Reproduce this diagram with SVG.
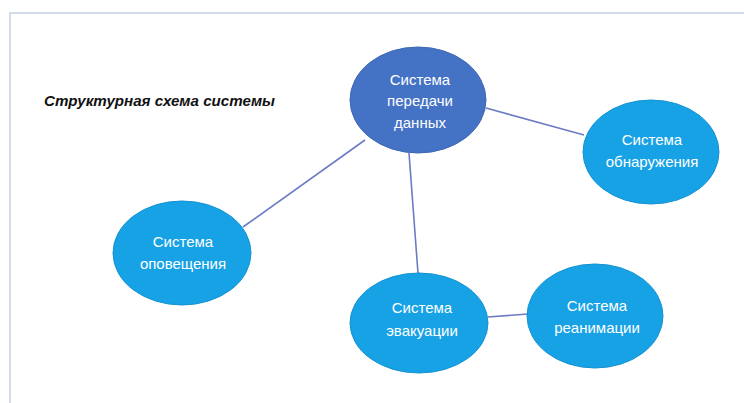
<svg xmlns="http://www.w3.org/2000/svg" width="744" height="403" viewBox="0 0 744 403">
<style>
.frame{fill:none;stroke:#d3dbe9;stroke-width:2}
.conn{stroke:#6b7cc4;stroke-width:1.6;fill:none}
.main{fill:#4472c4;stroke:#3d67b3;stroke-width:1}
.node{fill:#17a2e6;stroke:#1592d2;stroke-width:1}
.lbl{font-family:"Liberation Sans",Arial,sans-serif;font-size:15px;fill:#ffffff;text-anchor:middle;dominant-baseline:central}
.title{font-family:"Liberation Sans",Arial,sans-serif;font-size:15px;font-weight:bold;font-style:italic;fill:#111111;dominant-baseline:central}
</style>
<rect x="0" y="0" width="744" height="403" fill="#ffffff"/>
<path class="frame" d="M10,403 V13 H744"/>
<text class="title" x="44" y="100" textLength="231" lengthAdjust="spacingAndGlyphs">Структурная схема системы</text>
<g id="connectors">
<line class="conn" x1="486" y1="108" x2="584" y2="135"/>
<line class="conn" x1="365" y1="140" x2="243" y2="227"/>
<line class="conn" x1="409" y1="153" x2="418" y2="273"/>
<line class="conn" x1="488" y1="317" x2="528" y2="314"/>
</g>
<g id="node-transfer">
<ellipse class="main" cx="418" cy="100" rx="68" ry="53"/>
<text class="lbl" x="420" y="79">Система</text>
<text class="lbl" x="420" y="100">передачи</text>
<text class="lbl" x="420" y="122">данных</text>
</g>
<g id="node-detection">
<ellipse class="node" cx="651" cy="152" rx="68" ry="52"/>
<text class="lbl" x="652" y="139">Система</text>
<text class="lbl" x="652" y="161">обнаружения</text>
</g>
<g id="node-alert">
<ellipse class="node" cx="182" cy="253" rx="69" ry="52"/>
<text class="lbl" x="183" y="241">Система</text>
<text class="lbl" x="183" y="263">оповещения</text>
</g>
<g id="node-evac">
<ellipse class="node" cx="419" cy="323" rx="69" ry="50"/>
<text class="lbl" x="422" y="307">Система</text>
<text class="lbl" x="422" y="330">эвакуации</text>
</g>
<g id="node-reanim">
<ellipse class="node" cx="595" cy="316" rx="68" ry="52"/>
<text class="lbl" x="597" y="305">Система</text>
<text class="lbl" x="597" y="327">реанимации</text>
</g>
</svg>
